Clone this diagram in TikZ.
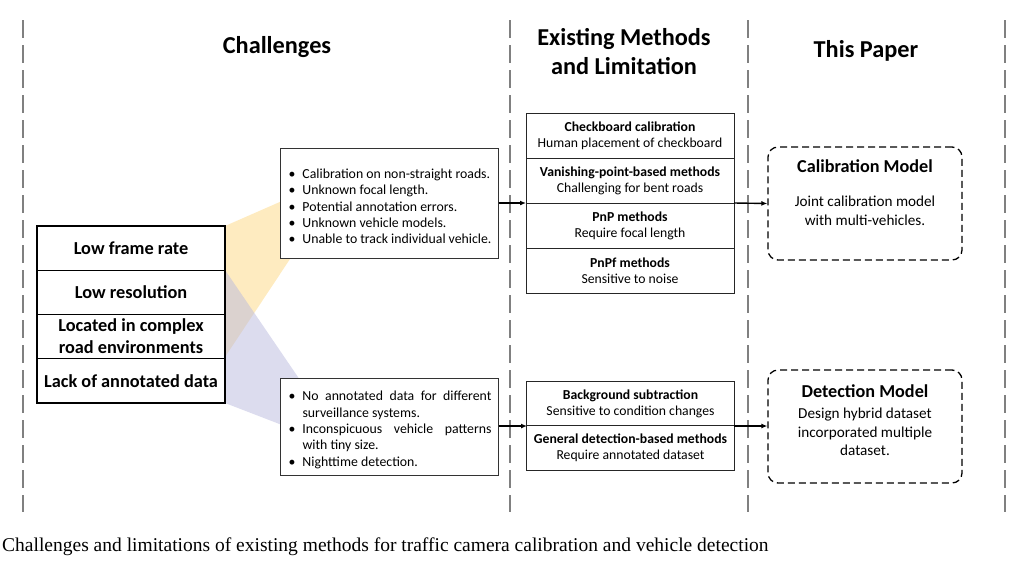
\documentclass[tikz,border=0pt]{standalone}
\usepackage{fontspec}
\setmainfont{Carlito}
\newfontfamily\capfont{Liberation Serif}
\usetikzlibrary{arrows.meta}
\newcommand{\bitem}[1]{\par\noindent\hangindent=16pt\hangafter=1\makebox[16pt][l]{\hspace{2pt}\textbullet}#1}
\definecolor{fanyel}{RGB}{253,215,130}
\definecolor{fanpur}{RGB}{185,185,222}
\tikzset{
  chal/.style={draw=black, line width=1.3pt, minimum width=188pt, minimum height=44.25pt, font=\fontsize{18.3}{22}\selectfont\bfseries, align=center, inner sep=0pt, fill=white},
  meth/.style={draw=black!85, line width=1pt, minimum width=208pt, minimum height=45pt, align=center, font=\fontsize{13.7}{16}\selectfont, inner sep=0pt},
  bul/.style={draw=black!80, line width=1pt, text width=205pt, inner xsep=6.5pt, inner ysep=0pt, fill=white, align=justify, font=\fontsize{13.8}{16.4}\selectfont},
  model/.style={draw=black, dash pattern=on 7pt off 4pt, rounded corners=10pt, line width=1.3pt, minimum width=194pt, minimum height=113pt},
  mtitle/.style={font=\fontsize{18.2}{20}\selectfont\bfseries, align=center},
  mbody/.style={font=\fontsize{15.2}{18.5}\selectfont, align=center},
  sep/.style={draw=gray, line width=1.8pt, dash pattern=on 18pt off 7pt},
  hdr/.style={font=\fontsize{24.3}{29}\selectfont\bfseries, align=center},
  arr/.style={-{Latex[length=6pt,width=5pt]}, line width=1.4pt}
}
\begin{document}
\begin{tikzpicture}[x=1pt,y=-1pt]
\useasboundingbox (0,0) rectangle (1027,570);
% separators
\coordinate (s1t) at (23,20);  \coordinate (s1b) at (23,512);
\coordinate (s2t) at (510,20); \coordinate (s2b) at (510,512);
\coordinate (s3t) at (748,20); \coordinate (s3b) at (748,512);
\coordinate (s4t) at (1005,20);\coordinate (s4b) at (1005,512);
\draw[sep] (s1t) -- (s1b);
\draw[sep] (s2t) -- (s2b);
\draw[sep] (s3t) -- (s3b);
\draw[sep] (s4t) -- (s4b);
% headers
\node[hdr] (h1) at (277,47) {Challenges};
\node[hdr] (h2) at (624,51.5) {Existing Methods\\and Limitation};
\node[hdr] (h3) at (866,51) {This Paper};
% fans
\fill[fanyel, fill opacity=0.5] (225,226) -- (282,201) -- (296,250) -- (225,357) -- cycle;
\fill[fanpur, fill opacity=0.5] (225,270) -- (300,380) -- (282,425) -- (225,403) -- cycle;
% challenges stack
\node[chal] (c1) at (131,248.1) {Low frame rate};
\node[chal] (c2) at (131,292.4) {Low resolution};
\node[chal] (c3) at (131,336.6) {Located in complex\\road environments};
\node[chal] (c4) at (131,380.9) {Lack of annotated data};
% bullet boxes
\node[bul, minimum height=110pt] (b1) at (389,203) {%
\bitem{Calibration on non-straight roads.}
\bitem{Unknown focal length.}
\bitem{Potential annotation errors.}
\bitem{Unknown vehicle models.}
\bitem{Unable to track individual vehicle.}};
\node[bul, minimum height=97pt] (b2) at (389,426.5) {%
\bitem{No annotated data for different surveillance systems.}
\bitem{Inconspicuous vehicle patterns with tiny size.}
\bitem{Nighttime detection.}};
% methods
\node[meth] (m1) at (630,135.5) {\textbf{Checkboard calibration}\\Human placement of checkboard};
\node[meth] (m2) at (630,180.5) {\textbf{Vanishing-point-based methods}\\Challenging for bent roads};
\node[meth] (m3) at (630,225.5) {\textbf{PnP methods}\\Require focal length};
\node[meth] (m4) at (630,270.5) {\textbf{PnPf methods}\\Sensitive to noise};
\node[meth, minimum height=44.5pt] (m5) at (630.5,403.5) {\textbf{Background subtraction}\\Sensitive to condition changes};
\node[meth, minimum height=44.5pt] (m6) at (630.5,448) {\textbf{General detection-based methods}\\Require annotated dataset};
% models
\node[model] (p1) at (865,203.5) {};
\node[mtitle] (p1t) at (865,166) {Calibration Model};
\node[mbody] (p1b) at (865,211) {Joint calibration model\\with multi-vehicles.};
\node[model] (p2) at (865,426.5) {};
\node[mtitle] (p2t) at (865,391) {Detection Model};
\node[mbody] (p2b) at (865,432) {Design hybrid dataset\\incorporated multiple\\dataset.};
% arrows
\coordinate (ma) at (526,203);
\coordinate (mb) at (734,203);
\coordinate (mc) at (527,426);
\coordinate (md) at (734,426);
\draw[arr] (b1.east) -- (ma);
\draw[arr] (mb) -- (p1.west);
\draw[arr] (b2.east |- mc) -- (mc);
\draw[arr] (md) -- (p2.west |- md);
% caption
\node[anchor=west, inner sep=0pt, font=\capfont\fontsize{19.5}{22}\selectfont] (cap) at (2,547) {Challenges and limitations of existing methods for traffic camera calibration and vehicle detection};
\end{tikzpicture}
\end{document}
